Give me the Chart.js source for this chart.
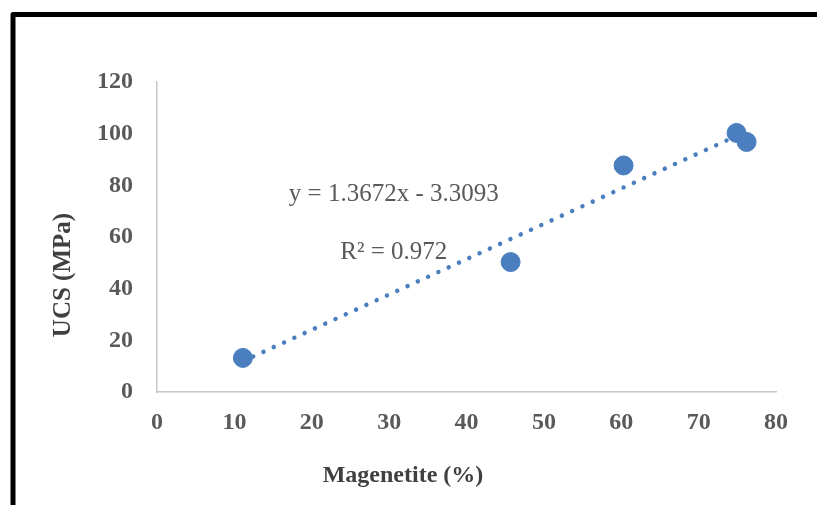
<!DOCTYPE html>
<html>
<head>
<meta charset="utf-8">
<script src="https://cdn.jsdelivr.net/npm/chart.js@4/dist/chart.umd.min.js"></script>
<style>
  html, body { margin: 0; padding: 0; background: #fff; }
  #wrap { width: 817px; height: 505px; position: relative; }
</style>
</head>
<body>
<div id="wrap"><canvas id="chart" width="817" height="505"></canvas></div>
<script>
// values
const magnetite = [11.1, 45.7, 60.3, 74.9, 76.2];
const ucs = [13.2, 50.3, 87.7, 100.3, 96.8];
// linear trendline endpoints (y = 1.3672x - 3.3093)
const trendX = [11.1, 76.2];
const trendY = [11.9, 100.9];
const xTicks = [0, 10, 20, 30, 40, 50, 60, 70, 80];
const yTicks = [0, 20, 40, 60, 80, 100, 120];
const equationText = "y = 1.3672x - 3.3093";
const r2Text = "R\u00b2 = 0.972";
const xTitle = "Magenetite (%)";
const yTitle = "UCS (MPa)";

const serif = "'Liberation Serif', 'Times New Roman', serif";
const blue = "#4a7ebf";

// black frame on the top and left edge
const framePlugin = {
    id: "frame",
    beforeDraw(chart) {
        const ctx = chart.ctx;
        ctx.save();
        ctx.strokeStyle = "#000";
        ctx.lineWidth = 5;
        ctx.lineJoin = "round";
        ctx.beginPath();
        ctx.moveTo(13, 505);
        ctx.lineTo(13, 14.5);
        ctx.lineTo(817, 14.5);
        ctx.stroke();
        ctx.restore();
    }
};

// trendline label and axis titles (the titles sit off-centre in the original)
const labelPlugin = {
    id: "texts",
    afterDatasetsDraw(chart) {
        const ctx = chart.ctx;
        const x = chart.scales.x, y = chart.scales.y;
        ctx.save();
        ctx.fillStyle = "#595959";
        ctx.font = "25px " + serif;
        ctx.textAlign = "center";
        ctx.textBaseline = "middle";
        ctx.fillText(equationText, x.getPixelForValue(30.6), y.getPixelForValue(76.3));
        ctx.fillText(r2Text, x.getPixelForValue(30.6), y.getPixelForValue(54.2));

        ctx.fillStyle = "#404040";
        ctx.font = "bold 24px " + serif;
        ctx.fillText(xTitle, 403, 476);
        ctx.translate(64, 275);
        ctx.rotate(-Math.PI / 2);
        ctx.font = "bold 25px " + serif;
        ctx.fillText(yTitle, 0, 0);
        ctx.restore();
    }
};

new Chart(document.getElementById("chart"), {
    type: "scatter",
    data: {
        datasets: [
            {
                label: "UCS",
                data: magnetite.map((m, i) => ({ x: m, y: ucs[i] })),
                backgroundColor: blue,
                borderColor: blue,
                pointRadius: 9.5,
                pointHoverRadius: 9.5,
                order: 1
            },
            {
                label: "Linear",
                type: "line",
                data: trendX.map((m, i) => ({ x: m, y: trendY[i] })),
                borderColor: blue,
                borderWidth: 4.5,
                borderCapStyle: "round",
                borderDash: [0.01, 11.3],
                pointRadius: 0,
                fill: false,
                order: 2
            }
        ]
    },
    options: {
        responsive: false,
        animation: false,
        events: [],
        layout: { padding: { left: 0, right: 41, top: 82, bottom: 0 } },
        plugins: { legend: { display: false }, tooltip: { enabled: false } },
        scales: {
            x: {
                type: "linear",
                min: 0,
                max: 80,
                afterFit: s => { s.height = 113; },
                afterBuildTicks: s => { s.ticks = xTicks.map(v => ({ value: v })); },
                grid: { display: false, drawTicks: false },
                border: { display: true, color: "#c8c8c8", width: 1.5 },
                ticks: { color: "#595959", padding: 16, font: { family: serif, size: 24, weight: "bold" } }
            },
            y: {
                min: 0,
                max: 120,
                afterFit: s => { s.width = 157; },
                afterBuildTicks: s => { s.ticks = yTicks.map(v => ({ value: v })); },
                grid: { display: false, drawTicks: false },
                border: { display: true, color: "#c8c8c8", width: 1.5 },
                ticks: { color: "#595959", padding: 24, font: { family: serif, size: 24, weight: "bold" } }
            }
        }
    },
    plugins: [framePlugin, labelPlugin]
});
</script>
</body>
</html>
